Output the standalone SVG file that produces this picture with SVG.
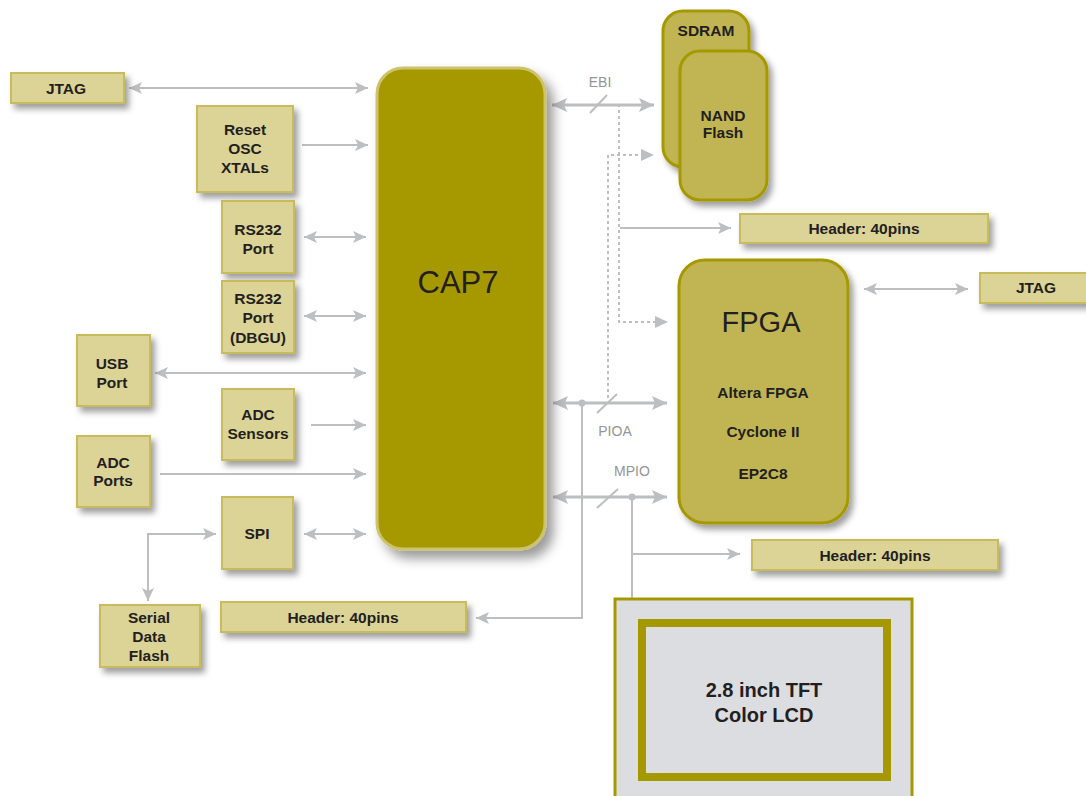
<svg xmlns="http://www.w3.org/2000/svg" width="1086" height="796" viewBox="0 0 1086 796">
<defs>
<filter id="sh" x="-20%" y="-20%" width="150%" height="160%"><feDropShadow dx="4" dy="5" stdDeviation="3" flood-color="#000" flood-opacity="0.38"/></filter>
<filter id="shb" x="-20%" y="-10%" width="150%" height="130%"><feDropShadow dx="7" dy="8" stdDeviation="6" flood-color="#000" flood-opacity="0.4"/></filter>
<marker id="a" markerUnits="userSpaceOnUse" markerWidth="14" markerHeight="12" refX="13" refY="6" orient="auto-start-reverse"><path d="M0,0 L13,6 L0,12 L3,6 z" fill="#bcbec0"/></marker>
<marker id="ab" markerUnits="userSpaceOnUse" markerWidth="16" markerHeight="14" refX="15" refY="7" orient="auto-start-reverse"><path d="M0,0 L15,7 L0,14 L3,7 z" fill="#bcbec0"/></marker>
<style>
.bx{fill:#dcd396;stroke:#c7bb5c;stroke-width:2}
.chip{fill:#c1b552;stroke:#a69900;stroke-width:3}
.t{font-family:"Liberation Sans",Arial,sans-serif;font-weight:bold;font-size:15.5px;fill:#231f20;text-anchor:middle}
.big{font-family:"Liberation Sans",Arial,sans-serif;font-size:29px;fill:#231f20;text-anchor:middle}
.lb{font-family:"Liberation Sans",Arial,sans-serif;font-size:14px;fill:#939598;text-anchor:middle}
.c{stroke:#bcbec0;stroke-width:2;fill:none}
.cb{stroke:#bcbec0;stroke-width:3;fill:none}
.d{stroke:#bcbec0;stroke-width:2;fill:none;stroke-dasharray:3 3}
.m1{marker-end:url(#a)}
.m2{marker-start:url(#a);marker-end:url(#a)}
.mb{marker-start:url(#ab);marker-end:url(#ab)}
</style>
</defs>
<rect width="1086" height="796" fill="#fff"/>

<g id="connectors">
<line class="c m2" x1="129" y1="88" x2="368" y2="88"/>
<line class="c m1" x1="302" y1="145" x2="368" y2="145"/>
<line class="c m2" x1="304" y1="237" x2="366" y2="237"/>
<line class="c m2" x1="304" y1="316" x2="366" y2="316"/>
<line class="c m2" x1="155" y1="373" x2="366" y2="373"/>
<line class="c m1" x1="311" y1="425" x2="366" y2="425"/>
<line class="c m1" x1="160" y1="474" x2="366" y2="474"/>
<line class="c m2" x1="304" y1="534" x2="366" y2="534"/>
<path class="c m2" d="M148,601 L148,534 L216,534"/>
<line class="cb mb" x1="552" y1="105" x2="654" y2="105"/>
<line class="c" x1="590" y1="113" x2="607" y2="95"/>
<path class="d" d="M619,104 L619,322 L655,322"/>
<path d="M655,316 L668,322 L655,328 z" fill="#bcbec0"/>
<path class="d" d="M608,398 L608,155 L641,155"/>
<path d="M641,149 L654,155 L641,161 z" fill="#bcbec0"/>
<line class="c m1" x1="620" y1="228" x2="731" y2="228"/>
<line class="cb mb" x1="553" y1="403" x2="667" y2="403"/>
<line class="c" x1="597" y1="413" x2="617" y2="394"/>
<circle cx="582" cy="403" r="3.5" fill="#bcbec0"/>
<path class="c m1" d="M582,403 L582,618 L476,618"/>
<line class="cb mb" x1="553" y1="497" x2="667" y2="497"/>
<line class="c" x1="597" y1="508" x2="618" y2="489"/>
<circle cx="632" cy="497" r="3.5" fill="#bcbec0"/>
<line class="c" x1="632" y1="497" x2="632" y2="598"/>
<line class="c m1" x1="632" y1="554" x2="740" y2="554"/>
<line class="c m2" x1="864" y1="289" x2="968" y2="289"/>
<text class="lb" x="600" y="87">EBI</text>
<text class="lb" x="615" y="436">PIOA</text>
<text class="lb" x="632" y="476">MPIO</text>
</g>

<g id="cap7">
<rect x="377" y="68" width="168" height="481" rx="26" fill="#a69900" stroke="#cdc36c" stroke-width="3" filter="url(#shb)"/>
<text class="big" x="458" y="293" style="font-size:31px">CAP7</text>
</g>

<g id="jtag-left">
<rect class="bx" x="11" y="73" width="113" height="30" filter="url(#sh)"/>
<text class="t" x="66" y="94">JTAG</text>
</g>
<g id="reset">
<rect class="bx" x="197" y="106" width="96" height="86" filter="url(#sh)"/>
<text class="t" x="245" y="135">Reset</text>
<text class="t" x="245" y="154">OSC</text>
<text class="t" x="245" y="173">XTALs</text>
</g>
<g id="rs232">
<rect class="bx" x="222" y="201" width="72" height="72" filter="url(#sh)"/>
<text class="t" x="258" y="235">RS232</text>
<text class="t" x="258" y="254">Port</text>
</g>
<g id="rs232-dbgu">
<rect class="bx" x="222" y="281" width="72" height="72" filter="url(#sh)"/>
<text class="t" x="258" y="304">RS232</text>
<text class="t" x="258" y="323">Port</text>
<text class="t" x="258" y="343">(DBGU)</text>
</g>
<g id="usb">
<rect class="bx" x="77" y="335" width="73" height="71" filter="url(#sh)"/>
<text class="t" x="112" y="369">USB</text>
<text class="t" x="112" y="388">Port</text>
</g>
<g id="adc-sensors">
<rect class="bx" x="222" y="389" width="72" height="71" filter="url(#sh)"/>
<text class="t" x="258" y="420">ADC</text>
<text class="t" x="258" y="439">Sensors</text>
</g>
<g id="adc-ports">
<rect class="bx" x="77" y="436" width="73" height="71" filter="url(#sh)"/>
<text class="t" x="113" y="468">ADC</text>
<text class="t" x="113" y="486">Ports</text>
</g>
<g id="spi">
<rect class="bx" x="222" y="497" width="71" height="72" filter="url(#sh)"/>
<text class="t" x="257" y="539">SPI</text>
</g>
<g id="serial-flash">
<rect class="bx" x="100" y="605" width="100" height="62" filter="url(#sh)"/>
<text class="t" x="149" y="623">Serial</text>
<text class="t" x="149" y="642">Data</text>
<text class="t" x="149" y="661">Flash</text>
</g>
<g id="header-bl">
<rect class="bx" x="221" y="602" width="245" height="30" filter="url(#sh)"/>
<text class="t" x="343" y="623">Header: 40pins</text>
</g>

<g id="sdram">
<rect class="chip" x="663" y="11" width="86" height="156" rx="20" filter="url(#sh)"/>
<text class="t" x="706" y="36">SDRAM</text>
</g>
<g id="nand">
<rect class="chip" x="680" y="51" width="87" height="149" rx="20" filter="url(#sh)"/>
<text class="t" x="723" y="121">NAND</text>
<text class="t" x="723" y="138">Flash</text>
</g>
<g id="header-tr">
<rect class="bx" x="740" y="214" width="248" height="29" filter="url(#sh)"/>
<text class="t" x="864" y="234">Header: 40pins</text>
</g>
<g id="fpga">
<rect class="chip" x="679" y="260" width="169" height="263" rx="26" filter="url(#sh)"/>
<text class="big" x="761" y="332">FPGA</text>
<text class="t" x="763" y="398">Altera FPGA</text>
<text class="t" x="763" y="437">Cyclone II</text>
<text class="t" x="763" y="479">EP2C8</text>
</g>
<g id="jtag-right">
<rect class="bx" x="980" y="273" width="110" height="30" filter="url(#sh)"/>
<text class="t" x="1036" y="293">JTAG</text>
</g>
<g id="header-mid">
<rect class="bx" x="752" y="540" width="246" height="30" filter="url(#sh)"/>
<text class="t" x="875" y="561">Header: 40pins</text>
</g>
<g id="lcd">
<rect x="615" y="599" width="297" height="210" fill="#dcdde0" stroke="#a69900" stroke-width="3"/>
<rect x="642" y="623" width="245" height="154" fill="#dcdde0" stroke="#a69900" stroke-width="8"/>
<text class="t" x="764" y="697" style="font-size:20px">2.8 inch TFT</text>
<text class="t" x="764" y="722" style="font-size:20px">Color LCD</text>
</g>
</svg>
